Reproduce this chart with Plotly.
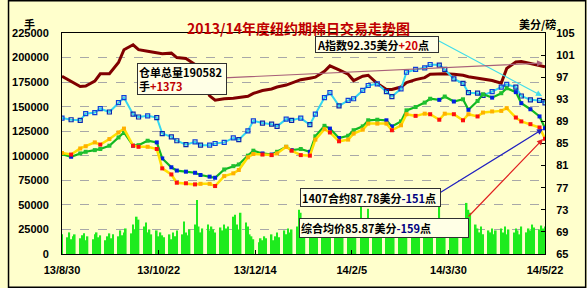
import pandas as pd
import plotly.graph_objects as go

# ---------------- data ----------------
start_date, end_date = "2013-08-30", "2014-05-22"
trade_days = pd.bdate_range(start_date, end_date)      # daily trading days
price_days = trade_days[::3]                            # sampled days for price lines

tick_dates = ["2013-08-30", "2013-10-22", "2013-12-14", "2014-02-05", "2014-03-30", "2014-05-22"]
tick_text = ["13/8/30", "13/10/22", "13/12/14", "14/2/5", "14/3/30", "14/5/22"]
right_ticks = [65, 69, 73, 77, 81, 85, 89, 93, 97, 101, 105]

# daily volume (lots)
volume = [
    20000, 17000, 22000, 15000, 18000, 20000, 16000, 19000, 21000, 14000,
    18000, 15000, 20000, 22000, 17000, 19000, 14000, 18000, 21000, 16000,
    20000, 18000, 24000, 19000, 22000, 26000, 21000, 30000, 25000, 38000,
    35000, 28000, 32000, 22000, 25000, 20000, 24000, 18000, 22000, 19000,
    17000, 20000, 15000, 22000, 18000, 24000, 20000, 33000, 22000, 19000,
    25000, 30000, 55000, 28000, 22000, 26000, 30000, 24000, 28000, 25000,
    22000, 27000, 24000, 30000, 26000, 28000, 38000, 40000, 30000, 25000,
    42000, 32000, 28000, 20000, 18000, 15000, 12000, 16000, 14000, 18000,
    16000, 20000, 14000, 18000, 22000, 17000, 24000, 20000, 26000, 22000,
    25000, 28000, 45000, 42000, 30000, 26000, 22000, 28000, 20000, 24000,
    28000, 25000, 30000, 22000, 26000, 20000, 24000, 18000, 22000, 20000,
    24000, 22000, 26000, 28000, 30000, 25000, 48000, 32000, 28000, 24000,
    46000, 35000, 28000, 22000, 26000, 20000, 24000, 22000, 26000, 28000,
    24000, 26000, 32000, 35000, 28000, 22000, 25000, 20000, 24000, 22000,
    26000, 28000, 24000, 30000, 25000, 28000, 32000, 55000, 30000, 26000,
    35000, 30000, 26000, 28000, 24000, 30000, 26000, 28000, 52000, 45000,
    42000, 30000, 26000, 22000, 28000, 20000, 24000, 22000, 26000, 20000,
    24000, 26000, 22000, 28000, 20000, 25000, 22000, 26000, 24000, 20000,
    28000, 22000, 26000, 24000, 30000, 27000, 25000, 29000, 26000, 28000,
]

# certificated stocks (lots)
stocks = [
    181000, 176000, 170500, 171000, 176000, 183500, 183600, 195000, 208000, 213000,
    208000, 206500, 205000, 204000, 204500, 200000, 199000, 193000, 180000, 161000,
    156500, 158000, 158500, 159000, 160500, 163500, 166500, 168000, 170000, 172000,
    174000, 177500, 179000, 180000, 186000, 191500, 187500, 183000, 176600, 181000,
    182000, 173500, 167500, 167500, 170000, 174500, 177500, 179600, 183000, 183600,
    183600, 183000, 182000, 180500, 179000, 178000, 176600, 174000, 189000, 195500,
    196000, 194000, 191700, 190582,
]

# Cotlook A index (cents/lb)
a_index = [
    89.6, 89.3, 89.2, 90.4, 90.6, 91.3, 90.7, 92.4, 93.3, 90.3,
    89.8, 90.0, 89.7, 86.8, 86.2, 85.5, 84.8, 85.3, 84.7, 84.7,
    85.0, 85.2, 86.0, 85.7, 87.3, 89.1, 88.7, 88.5, 88.1, 89.4,
    89.2, 89.6, 88.4, 90.3, 93.3, 94.2, 91.8, 92.8, 93.1, 94.6,
    95.5, 95.8, 94.4, 93.5, 94.9, 97.9, 98.4, 98.7, 99.3, 99.2,
    98.4, 96.7, 95.9, 94.2, 94.1, 93.7, 94.4, 95.2, 95.7, 95.2,
    93.6, 92.9, 92.8, 92.35,
]

# ICE July 2014 contract (cents/lb)
july_1407 = [
    83.1, 82.6, 83.2, 83.5, 83.8, 84.0, 84.6, 86.1, 87.0, 84.6,
    84.7, 85.5, 85.2, 82.3, 80.7, 80.1, 79.9, 79.7, 79.3, 79.0,
    78.8, 80.3, 80.9, 81.2, 82.8, 83.7, 83.2, 83.0, 83.5, 84.4,
    83.8, 84.0, 83.5, 86.3, 88.2, 87.7, 86.0, 86.4, 87.4, 88.1,
    89.2, 89.3, 89.2, 88.1, 89.0, 91.0, 91.6, 92.4, 93.1, 92.9,
    93.5, 92.6, 93.0, 91.1, 92.7, 93.9, 93.3, 94.1, 95.0, 94.3,
    92.3, 91.2, 89.9, 87.78,
]

# composite average price (cents/lb)
composite = [
    83.3, 83.0, 84.1, 84.5, 85.2, 84.8, 85.8, 87.0, 87.7, 84.6,
    84.4, 84.4, 84.0, 80.5, 79.4, 77.9, 77.8, 77.6, 77.7, 77.7,
    77.3, 79.1, 79.6, 80.2, 82.5, 83.1, 83.0, 82.9, 83.2, 84.4,
    83.7, 82.9, 82.8, 85.7, 87.6, 87.0, 85.4, 85.7, 86.8, 87.5,
    88.6, 88.6, 88.6, 87.4, 88.3, 90.3, 90.0, 90.4, 90.3, 89.3,
    90.4, 90.3, 89.2, 90.3, 89.9, 90.6, 90.8, 90.9, 91.4, 89.7,
    89.0, 88.5, 87.9, 85.87,
]

assert len(trade_days) == len(volume), (len(trade_days), len(volume))
assert len(price_days) == len(stocks) == len(a_index) == len(july_1407) == len(composite)

# ---------------- layout geometry ----------------
W, H = 587, 288
ML, MR, MT, MB = 55, 42, 33, 34
PW, PH = W - ML - MR, H - MT - MB
BG = "#FFFFCC"
FONT = "Liberation Sans, Arial, sans-serif"
CJK = "Noto Sans CJK SC, Liberation Sans, sans-serif"


def px(x):
    return (x - ML) / PW


def py(y):
    return (H - MB - y) / PH


def dir_colors(vals, up, down):
    out = [up]
    for a, b in zip(vals[:-1], vals[1:]):
        out.append(down if b < a else up)
    return out


fig = go.Figure()

fig.add_trace(go.Bar(x=trade_days, y=volume, marker=dict(color="#1EEB1E", line=dict(width=0)),
                     yaxis="y", hoverinfo="skip"))
fig.add_trace(go.Scatter(x=price_days, y=stocks, mode="lines", yaxis="y",
                         line=dict(color="#800000", width=3)))
fig.add_trace(go.Scatter(x=price_days, y=a_index, mode="lines+markers", yaxis="y2",
                         line=dict(color="#33D6F0", width=2),
                         marker=dict(symbol="square-open", size=4,
                                     color=dir_colors(a_index, "#1040D8", "#0828B0"),
                                     line=dict(width=1.2))))
fig.add_trace(go.Scatter(x=price_days, y=july_1407, mode="lines+markers", yaxis="y2",
                         line=dict(color="#10B820", width=2.2),
                         marker=dict(symbol="square", size=4,
                                     color=dir_colors(july_1407, "#20C030", "#0020E0"))))
fig.add_trace(go.Scatter(x=price_days, y=composite, mode="lines+markers", yaxis="y2",
                         line=dict(color="#FFE000", width=2.5),
                         marker=dict(symbol="square", size=4,
                                     color=dir_colors(composite, "#FFB000", "#FF1010"))))

axis_font = dict(family=FONT, size=11, color="#000000", weight="bold")

fig.update_layout(
    width=W, height=H,
    margin=dict(l=ML, r=MR, t=MT, b=MB),
    paper_bgcolor=BG, plot_bgcolor=BG,
    showlegend=False, bargap=0.12,
    xaxis=dict(type="date", range=[start_date, end_date],
               tickvals=tick_dates, ticktext=tick_text,
               ticks="inside", ticklen=4, tickcolor="#000000",
               showline=True, linecolor="#000000", linewidth=1, mirror=True,
               showgrid=False, zeroline=False, tickfont=axis_font,
               ticklabelstandoff=6),
    yaxis=dict(range=[0, 225000], dtick=25000, tickformat="d",
               showgrid=True, gridcolor="#A8A8A8", griddash="dash", gridwidth=1,
               showline=True, linecolor="#000000", linewidth=1, mirror=True,
               zeroline=False, ticks="", tickfont=axis_font, ticklabelstandoff=10),
    yaxis2=dict(range=[65, 105], tickvals=right_ticks, overlaying="y", side="right",
                showgrid=False, zeroline=False, showline=True, linecolor="#000000",
                ticks="inside", ticklen=4, tickcolor="#000000",
                tickfont=axis_font, ticklabelstandoff=8),
)

ann = []
# title and unit labels
ann.append(dict(x=px(295), y=py(16), xref="paper", yref="paper", showarrow=False,
                text="<b>2013/14年度纽约期棉日交易走势图</b>",
                font=dict(family=CJK, size=14, color="#C00000")))
ann.append(dict(x=px(14), y=py(14), xref="paper", yref="paper", showarrow=False,
                text="<b>手</b>", font=dict(family=CJK, size=11, color="#000000")))
ann.append(dict(x=px(558), y=py(14), xref="paper", yref="paper", showarrow=False,
                text="<b>美分/磅</b>", font=dict(family=CJK, size=11, color="#000000")))

# arrows (head at x,y; tail offset in px)
arrows = [
    ((542, 96), (437, 40), "#40DDEB"),
    ((543, 63), (222, 78), "#A8607A"),
    ((543, 129), (438, 194), "#2020C0"),
    ((543, 139), (467, 218), "#E02020"),
]
for (hx, hy), (tx, ty), col in arrows:
    ann.append(dict(x=px(hx), y=py(hy), xref="paper", yref="paper", text="",
                    showarrow=True, ax=tx - hx, ay=ty - hy, arrowcolor=col,
                    arrowhead=2, arrowsize=1, arrowwidth=1.2, standoff=0))

box_font = dict(family=CJK, size=11, color="#000000")
boxes = [
    ((375, 44.5), 120, 13, "<b>A指数92.35美分<span style='color:#D00000'>+20</span>点</b>"),
    ((177, 79), 86, 28, "<b>仓单总量190582<br>手<span style='color:#C00000'>+1373</span></b>"),
    ((367.5, 197.5), 137, 15, "<b>1407合约87.78美分<span style='color:#000080'>-151</span>点</b>"),
    ((382, 228), 166, 16, "<b>综合均价85.87美分<span style='color:#000080'>-159</span>点</b>"),
]
for (cx, cy), w, h, txt in boxes:
    ann.append(dict(x=px(cx), y=py(cy), xref="paper", yref="paper", showarrow=False,
                    text=txt, font=box_font, width=w, height=h, align="left",
                    bgcolor="#FFFFE6", bordercolor="#303030", borderwidth=1, borderpad=1,
                    xanchor="center", yanchor="middle"))
fig.update_layout(annotations=ann)

# outer frame around the whole picture
fig.add_shape(type="rect", xref="paper", yref="paper",
              x0=(0.75 - ML) / PW, x1=(W - 0.75 - ML) / PW,
              y0=(H - MB - (H - 0.75)) / PH, y1=(H - MB - 0.75) / PH,
              line=dict(color="#000000", width=1.5), layer="above")

fig.write_html("out.html")
